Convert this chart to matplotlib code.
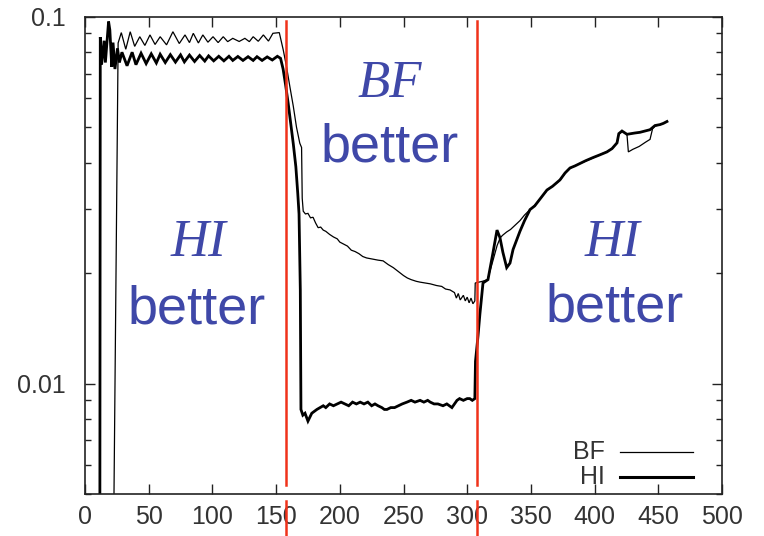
import matplotlib
matplotlib.use("Agg")
import matplotlib.pyplot as plt
from matplotlib.ticker import LogLocator, NullFormatter, FixedLocator, FixedFormatter

# ---------------- data ----------------
hi_x = [11.5, 12, 13, 15, 16, 18.5, 19.5, 21, 22, 23.5, 25.5, 27,
        29, 33, 37, 40, 44, 48, 52, 56, 59, 63, 67, 71, 75, 78, 82, 86, 90, 94, 97,
        101, 105, 109, 113, 116, 120, 124, 128, 132, 135, 139, 143, 147, 151,
        153.5, 155.5, 157.5, 159.5, 161.5, 163.5, 165.5, 167, 168, 169, 169.5,
        171, 172.7, 175, 176.5, 178, 180, 182, 184.5, 187, 189, 192, 195, 198, 201, 204,
        207, 210, 213, 216, 219, 222, 225, 227.6, 230, 233, 235, 237, 240, 243, 246,
        249, 252.7, 256, 259, 263, 266, 269, 271, 274, 277, 281, 284, 286, 288, 290,
        292, 294, 297, 300, 302, 304, 306,
        306.5, 308.5, 310, 312.4, 316.3, 320, 323.4, 325.7, 328, 331, 333.6, 336,
        341.4, 345, 349.3, 353, 357, 362.6, 367, 372.8, 376.8, 380.7, 384.6, 388.5,
        393, 398.7, 404, 409.7, 413.7, 417.6, 419, 421.5, 425.4, 431.7, 435.6, 439.6,
        443.5, 447.4, 451.3, 454, 456.8]
hi_y = [0.001, 0.088, 0.074, 0.086, 0.075, 0.097, 0.092, 0.073, 0.085, 0.072, 0.082, 0.075,
        0.0800, 0.0735, 0.0800, 0.0740, 0.0795, 0.0745, 0.0792, 0.0748, 0.0790, 0.0750,
        0.0788, 0.0752, 0.0787, 0.0753, 0.0786, 0.0755, 0.0784, 0.0757, 0.0782,
        0.0758, 0.0780, 0.0758, 0.0780, 0.0760, 0.0779, 0.0760, 0.0778, 0.0760,
        0.0778, 0.0760, 0.0777, 0.0762, 0.0780,
        0.0770, 0.072, 0.065, 0.058, 0.051, 0.045, 0.039, 0.033, 0.029, 0.018, 0.0085,
        0.0082, 0.0083, 0.0079, 0.0081, 0.0083, 0.0084, 0.0085, 0.0086, 0.0087, 0.0086,
        0.0088, 0.0087, 0.0088, 0.0089, 0.0088, 0.0087, 0.0089, 0.0088, 0.0089, 0.0088,
        0.0089, 0.0087, 0.0088, 0.0087, 0.0086, 0.0085, 0.0085, 0.0086, 0.0086, 0.0087,
        0.0088, 0.0089, 0.0090, 0.0089, 0.0090, 0.0089, 0.0090, 0.0089, 0.0088, 0.0088,
        0.0087, 0.0088, 0.0087, 0.0086, 0.0088, 0.0090, 0.0091, 0.0090, 0.0091, 0.0091,
        0.0090, 0.0091,
        0.0115, 0.0135, 0.0155, 0.0188, 0.0192, 0.0225, 0.0262, 0.0250, 0.0228, 0.0207,
        0.0213, 0.0232, 0.0260, 0.0278, 0.0298, 0.0305, 0.0318, 0.0337, 0.0345, 0.0359,
        0.0375, 0.0387, 0.0392, 0.0398, 0.0405, 0.0413, 0.0420, 0.0428, 0.0437, 0.0453,
        0.0480, 0.0488, 0.0478, 0.0482, 0.0484, 0.0488, 0.0492, 0.0505, 0.0508, 0.0512,
        0.0518]

bf_x = [21, 22.5, 26, 28.5, 32, 35.5, 39, 43, 47, 51, 55, 59, 64, 69, 74, 78.5, 82, 85,
        89, 92.5, 96.5, 100.5, 104.5, 108.5, 112, 116, 121, 125.5, 129, 132, 136, 140,
        144, 147.5, 152.5,
        155.6, 158.2, 160.8, 163.5, 166, 168.6, 170, 170.5, 171.3,
        173, 175, 177, 179, 181, 183, 185, 187, 189, 192, 195, 198, 200, 203, 206, 209,
        212, 215, 218, 221, 224, 227, 230, 234, 238, 242, 246, 250, 253, 256, 260, 263,
        267, 271, 276, 280, 283, 286.5, 290, 291.5, 293, 294.5, 297, 298.5, 300, 301.5,
        303, 304.5, 306,
        306.3, 312, 316, 320, 323.5, 326, 328, 331, 334, 337.5, 341.4, 345, 349.3,
        353, 357, 362.6, 367, 372.8, 376.8, 380.7, 384.6, 388.5, 393, 398.7, 404, 409.7,
        413.7, 417.6, 419, 421.5, 425.4, 426.5, 430, 435, 440, 443.5, 445.5, 447.4,
        451.3, 454, 456.8]
bf_y = [0.001, 0.004, 0.0848, 0.0905, 0.0815, 0.0910, 0.0830, 0.0882, 0.0835, 0.0892,
        0.0840, 0.0882, 0.0838, 0.0910, 0.0845, 0.0892, 0.0850, 0.0901, 0.0848, 0.0892,
        0.0852, 0.0882, 0.0850, 0.0882, 0.0855, 0.0873, 0.0856, 0.0873, 0.0855, 0.0882,
        0.0857, 0.0892, 0.0858, 0.0901, 0.0905,
        0.0812, 0.073, 0.0645, 0.057, 0.050, 0.0452, 0.044, 0.032, 0.0295,
        0.0290, 0.0291, 0.0283, 0.0284, 0.0274, 0.0266, 0.0267, 0.0262, 0.0260, 0.0255,
        0.0251, 0.0248, 0.0243, 0.0240, 0.0237, 0.0231, 0.0229, 0.0226, 0.0222, 0.0220,
        0.0219, 0.0218, 0.0217, 0.0216, 0.0211, 0.0207, 0.0202, 0.0197, 0.0194, 0.0192,
        0.0190, 0.0189, 0.0188, 0.0187, 0.0185, 0.0184, 0.0181, 0.0180, 0.0177, 0.0171,
        0.0176, 0.0169, 0.0174, 0.0168, 0.0172, 0.0166, 0.0171, 0.0165, 0.0168,
        0.0188, 0.0190, 0.0192, 0.0215, 0.0238, 0.0250, 0.0254, 0.0259, 0.0263, 0.0270,
        0.0278, 0.0288, 0.0298, 0.0306, 0.0318, 0.0336, 0.0345, 0.0358, 0.0374, 0.0386,
        0.0392, 0.0398, 0.0404, 0.0412, 0.0420, 0.0429, 0.0437, 0.0452, 0.0478, 0.0488,
        0.0478, 0.0428, 0.0435, 0.0443, 0.0455, 0.0463, 0.0495, 0.0503, 0.0508, 0.0512,
        0.0518]

boundaries = [157.5, 307.5]
x_ticks = [0, 50, 100, 150, 200, 250, 300, 350, 400, 450, 500]
y_ticks = [0.01, 0.1]
y_tick_labels = ["0.01", "0.1"]
region_labels = [("HI", "better"), ("BF", "better"), ("HI", "better")]

# ---------------- figure ----------------
W, H = 764, 536
fig = plt.figure(figsize=(W / 100, H / 100), dpi=100)
ax = fig.add_axes([85 / W, 1 - 494 / H, 637 / W, (494 - 16.7) / H])

tick_font = ["Liberation Sans Narrow", "Liberation Sans", "DejaVu Sans"]

ax.plot(bf_x, bf_y, color="black", lw=0.9, solid_joinstyle="miter")
ax.plot(hi_x, hi_y, color="black", lw=2.0, solid_joinstyle="miter")

ax.set_yscale("log")
ax.set_xlim(0, 500)
ax.set_ylim(0.005, 0.1)

ax.xaxis.set_major_locator(FixedLocator(x_ticks))
ax.yaxis.set_major_locator(FixedLocator(y_ticks))
ax.yaxis.set_major_formatter(FixedFormatter(y_tick_labels))
ax.yaxis.set_minor_locator(LogLocator(base=10, subs=range(2, 10)))
ax.yaxis.set_minor_formatter(NullFormatter())

ax.tick_params(which="both", direction="in", top=True, right=True, color="#222222")
ax.tick_params(which="major", length=7, width=1.0)
ax.tick_params(which="minor", length=4, width=1.0)
ax.tick_params(axis="x", pad=8)
ax.tick_params(axis="y", pad=14)
for lab in ax.get_xticklabels() + ax.get_yticklabels():
    lab.set_family(tick_font)
    lab.set_fontsize(18)
    lab.set_color("#333333")
for s in ax.spines.values():
    s.set_color("#222222")
    s.set_linewidth(1.2)

# red boundary lines (extend past the axes with a gap at the x axis)
red = "#F0321A"
top_frac = (494 - 21) / 477
for b in boundaries:
    ax.axvline(b, ymin=(494 - 485) / 477, ymax=top_frac, color=red, lw=1.8, clip_on=False)
    ax.axvline(b, ymin=(494 - 536) / 477, ymax=(494 - 501) / 477, color=red, lw=1.8,
               clip_on=False)

# region labels
blue = "#3F48A8"
label_pos = [(198, 256, 197, 323), (390, 97, 390, 162), (612, 256, 615, 321)]
for (name, word), (xn, yn, xb, yb) in zip(region_labels, label_pos):
    fig.text(xn / W, 1 - yn / H, name, family=["Liberation Serif", "DejaVu Serif"],
             style="italic", fontsize=38, color=blue, ha="center", va="baseline")
    fig.text(xb / W, 1 - yb / H, word, family=["Liberation Sans", "DejaVu Sans"],
             fontsize=39, color=blue, ha="center", va="baseline")

# legend (gnuplot style: right-aligned text, sample to the right)
leg_items = [("BF", 0.9, (494 - 451.7) / 477), ("HI", 2.2, (494 - 477) / 477)]
for name, lw, yy in leg_items:
    ax.text((605 - 85) / 637, yy, name, transform=ax.transAxes, ha="right", va="center",
            family=tick_font, fontsize=18, color="#333333")
    ax.plot([(620 - 85) / 637, (693 - 85) / 637], [yy, yy], transform=ax.transAxes,
            color="black", lw=lw)

fig.savefig("out.png", dpi=100)
